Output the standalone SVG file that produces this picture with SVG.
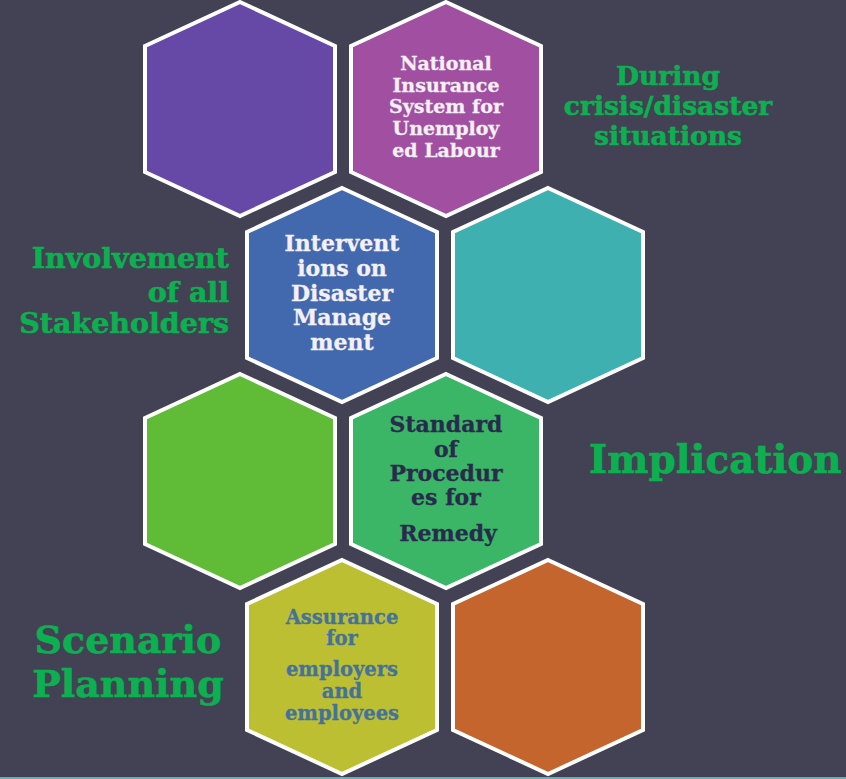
<svg xmlns="http://www.w3.org/2000/svg" width="846" height="779" viewBox="0 0 846 779">
<defs>
<style>
.hex{stroke:#ffffff;stroke-width:4;stroke-linejoin:miter}
text{font-family:"DejaVu Serif","Liberation Serif",serif;font-weight:bold;text-anchor:middle}
.lbl{fill:#0DB050;stroke:#0DB050;stroke-width:0.6}
.w{fill:#F4F0F6;stroke:#F4F0F6;stroke-width:0.3}
.n{fill:#282B4C;stroke:#282B4C;stroke-width:0.3}
.s{fill:#44729B;stroke:#44729B;stroke-width:0.3}
</style>
<polygon id="hx" points="0,-107 95,-63 95,63 0,107 -95,63 -95,-63"/>
</defs>
<rect width="846" height="779" fill="#424254"/>
<line x1="0" y1="778" x2="846" y2="778" stroke="#5FB3B3" stroke-width="2"/>
<g id="connectors"></g>
<g id="hex-purple"><use href="#hx" x="240" y="109" class="hex" fill="#6648A6"/></g>
<g id="hex-magenta"><use href="#hx" x="446" y="109" class="hex" fill="#A14FA0"/>
<text class="w" font-size="19"><tspan x="446" y="70">National</tspan><tspan x="446" y="92">Insurance</tspan><tspan x="446" y="113">System for</tspan><tspan x="446" y="135">Unemploy</tspan><tspan x="446" y="157">ed Labour</tspan></text></g>
<g id="hex-blue"><use href="#hx" x="342" y="295" class="hex" fill="#4268AE"/>
<text class="w" font-size="22"><tspan x="342" y="251">Intervent</tspan><tspan x="342" y="276">ions on</tspan><tspan x="342" y="301">Disaster</tspan><tspan x="342" y="325">Manage</tspan><tspan x="342" y="350">ment</tspan></text></g>
<g id="hex-teal"><use href="#hx" x="548" y="295" class="hex" fill="#3FB0B0"/></g>
<g id="hex-lime"><use href="#hx" x="240" y="481" class="hex" fill="#60BB37"/></g>
<g id="hex-green"><use href="#hx" x="446" y="481" class="hex" fill="#3BB666"/>
<text class="n" font-size="22"><tspan x="446" y="432">Standard</tspan><tspan x="446" y="457">of</tspan><tspan x="446" y="481">Procedur</tspan><tspan x="446" y="505">es for</tspan><tspan x="448" y="541">Remedy</tspan></text></g>
<g id="hex-olive"><use href="#hx" x="342" y="667" class="hex" fill="#BDBF32"/>
<text class="s" font-size="19.5"><tspan x="342" y="624">Assurance</tspan><tspan x="342" y="645">for</tspan><tspan x="342" y="676">employers</tspan><tspan x="342" y="698">and</tspan><tspan x="342" y="720">employees</tspan></text></g>
<g id="hex-orange"><use href="#hx" x="548" y="667" class="hex" fill="#C3652D"/></g>
<g id="label-crisis"><text class="lbl" font-size="26.5"><tspan x="668" y="85">During</tspan><tspan x="668" y="115">crisis/disaster</tspan><tspan x="668" y="145">situations</tspan></text></g>
<g id="label-stakeholders"><text class="lbl" font-size="28.5" style="text-anchor:end"><tspan x="229" y="268">Involvement</tspan><tspan x="229" y="302">of all</tspan><tspan x="229" y="333">Stakeholders</tspan></text></g>
<g id="label-implication"><text class="lbl" font-size="39" style="text-anchor:start" x="589" y="473">Implication</text></g>
<g id="label-scenario"><text class="lbl" font-size="38"><tspan x="128" y="653">Scenario</tspan><tspan x="128" y="697">Planning</tspan></text></g>
</svg>
